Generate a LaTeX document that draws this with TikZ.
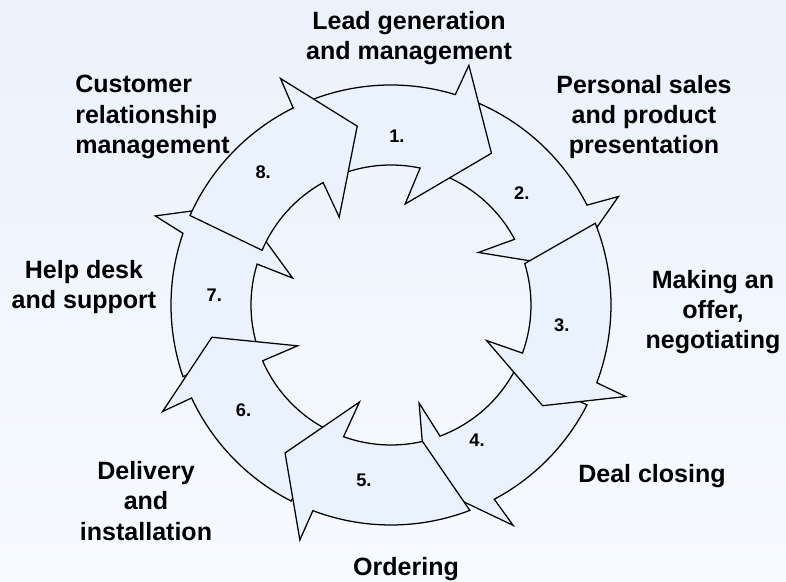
\documentclass[tikz,border=0pt]{standalone}
\usepackage{fontspec}
\setmainfont{Liberation Sans}
\definecolor{bgtop}{RGB}{235,242,252}
\definecolor{bgbot}{RGB}{247,251,255}
\definecolor{arrowfill}{RGB}{234,242,253}
\begin{document}
\begin{tikzpicture}[
    piece/.style={draw=black, fill=arrowfill, line width=0.9pt, line join=miter},
    stage/.style={font=\fontsize{17.8}{21.5}\selectfont\bfseries, align=center, inner sep=0pt},
    stepnum/.style={font=\fontsize{13}{15}\selectfont\bfseries, inner sep=0pt}]
  \useasboundingbox (-9.775,-6.925) rectangle (9.875,7.625);
  \fill[top color=bgtop, bottom color=bgbot] (-9.775,-6.925) rectangle (9.875,7.625);
  % ring of eight arrows: tail out/in, base out/in, barb out/in, tip
  % drawn in this order so the overlaps come out right
  \foreach \k/\tlo/\tli/\bso/\bsi/\bro/\bri/\tipang in {
      2/68/72/27/28/25.5/31/12,
      4/-27/-28/-62/-69.5/-61/-74/-79,
      3/21.8/17.2/-20.7/-20.1/-21.3/-20.4/-33.6,
      7/199/198/161/163/159.3/164.7/146.5,
      6/-117/-116/-155/-156.5/-155/-156.4/-169.8,
      5/-69/-77/-110.8/-109.8/-111.2/-108/-125.6,
      1/111/113/73/78/72/82/56.5,
      8/156/157/116.4/119/116/120.5/100.7}{
    \draw[piece] (\tlo:5.5) arc[start angle=\tlo, end angle=\bso, radius=5.5]
      -- (\bro:6.3) -- (\tipang:4.55) -- (\bri:2.55) -- (\bsi:3.5)
      arc[start angle=\bsi, end angle=\tli, radius=3.5] -- cycle;
  }
  \foreach \k/\a/\r in {1/88/4.225, 2/40.5/4.3, 3/-6.7/4.3, 4/-57.5/4.0, 5/-98.8/4.425, 6/-144.6/4.525, 7/176.8/4.425, 8/134/4.6}
    \node[stepnum] (n\k) at (\a:\r) {\k.};
  \node[stage] (lead) at (0.45,6.675) {Lead generation\\and management};
  \node[stage] (sales) at (6.325,4.7) {Personal sales\\and product\\presentation};
  \node[stage] (offer) at (8.05,-0.175) {Making an\\offer,\\negotiating};
  \node[stage] (closing) at (6.525,-4.275) {Deal closing};
  \node[stage] (ordering) at (0.375,-6.6) {Ordering};
  \node[stage] (delivery) at (-6.125,-4.9) {Delivery\\and\\installation};
  \node[stage] (helpdesk) at (-7.675,0.45) {Help desk\\and support};
  \node[stage, align=left, anchor=west] (crm) at (-7.9,4.7) {Customer\\relationship\\management};
\end{tikzpicture}
\end{document}
